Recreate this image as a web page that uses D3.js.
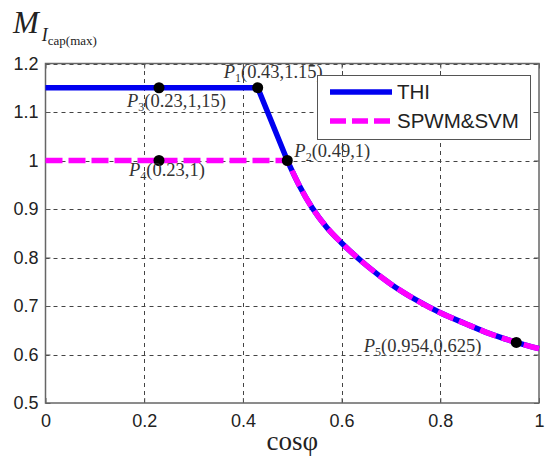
<!DOCTYPE html>
<html>
<head>
<meta charset="utf-8">
<script src="https://cdn.jsdelivr.net/npm/d3@7/dist/d3.min.js"></script>
<style>
  html, body { margin: 0; padding: 0; background: #fff; }
  svg { display: block; }
</style>
</head>
<body>
<svg id="chart" width="545" height="459"></svg>
<script>
// Shared tail of both curves (power-factor limited region)
const curveCos = [0.49, 0.515, 0.54, 0.57, 0.6, 0.65, 0.7, 0.75, 0.8, 0.85, 0.9, 0.954, 1];
const curveM   = [1.0, 0.947, 0.903, 0.862, 0.83, 0.784, 0.745, 0.713, 0.686, 0.664, 0.643, 0.625, 0.612];

// Flat heads of each strategy
const thiCos  = [0, 0.43];
const thiM    = [1.15, 1.15];
const spwmCos = [0];
const spwmM   = [1];

// Marked points
const pointNames = ["1", "2", "3", "4", "5"];
const pointCos   = [0.43, 0.49, 0.23, 0.23, 0.954];
const pointM     = [1.15, 1, 1.15, 1, 0.625];
const pointTexts = ["(0.43,1.15)", "(0.49,1)", "(0.23,1,15)", "(0.23,1)", "(0.954,0.625)"];

// Axis ticks
const xTicks = [0, 0.2, 0.4, 0.6, 0.8, 1];
const xTickLabels = ["0", "0.2", "0.4", "0.6", "0.8", "1"];
const yTicks = [0.5, 0.6, 0.7, 0.8, 0.9, 1, 1.1, 1.2];
const yTickLabels = ["0.5", "0.6", "0.7", "0.8", "0.9", "1", "1.1", "1.2"];

const seriesNames = ["THI", "SPWM&SVM"];

const svg = d3.select("#chart");
const x = d3.scaleLinear().domain([0, 1]).range([45.5, 539]);
const y = d3.scaleLinear().domain([0.5, 1.2]).range([403, 63.5]);

// Grid
const grid = svg.append("g").attr("stroke", "#444").attr("stroke-width", 1)
  .attr("stroke-dasharray", "4,4");
grid.selectAll("line.h").data(yTicks.filter(v => v > 0.5)).join("line")
  .attr("x1", x(0)).attr("x2", x(1))
  .attr("y1", d => Math.round(y(d)) + 0.5).attr("y2", d => Math.round(y(d)) + 0.5);
grid.selectAll("line.v").data(xTicks.filter(v => v > 0 && v < 1)).join("line")
  .attr("y1", y(0.5)).attr("y2", y(1.2))
  .attr("x1", d => Math.round(x(d)) + 0.5).attr("x2", d => Math.round(x(d)) + 0.5);

// Axes with inward ticks
const fmtX = d => xTickLabels[xTicks.indexOf(d)];
const fmtY = d => yTickLabels[yTicks.indexOf(d)];
const axB = svg.append("g").attr("transform", `translate(0,${y(0.5)})`)
  .call(d3.axisBottom(x).tickValues(xTicks).tickFormat(fmtX).tickSizeInner(-5).tickSizeOuter(0).tickPadding(11));
const axL = svg.append("g").attr("transform", `translate(${x(0)},0)`)
  .call(d3.axisLeft(y).tickValues(yTicks).tickFormat(fmtY).tickSizeInner(-5).tickSizeOuter(0).tickPadding(7));
const axT = svg.append("g").attr("transform", `translate(0,${y(1.2)})`)
  .call(d3.axisTop(x).tickValues(xTicks).tickFormat("").tickSizeInner(-5).tickSizeOuter(0));
const axR = svg.append("g").attr("transform", `translate(${x(1)},0)`)
  .call(d3.axisRight(y).tickValues(yTicks).tickFormat("").tickSizeInner(-5).tickSizeOuter(0));
[axB, axL, axT, axR].forEach(a => {
  a.select(".domain").remove();
  a.selectAll(".tick line").attr("stroke", "#555");
  a.selectAll(".tick text").attr("fill", "#222")
    .style("font-family", "'Liberation Sans', Arial, sans-serif").style("font-size", "18px");
});

// Plot box
svg.append("rect")
  .attr("x", x(0)).attr("y", y(1.2))
  .attr("width", x(1) - x(0)).attr("height", y(0.5) - y(1.2))
  .attr("fill", "none").attr("stroke", "#666").attr("stroke-width", 1.5);

// Lines: straight head joined to a smooth tail
function seriesPath(headCos, headM) {
  const head = headCos.map((c, i) => [x(c), y(headM[i])]).concat([[x(curveCos[0]), y(curveM[0])]]);
  const tail = curveCos.map((c, i) => [x(c), y(curveM[i])]);
  const a = d3.line().curve(d3.curveLinear)(head);
  const b = d3.line().curve(d3.curveMonotoneX)(tail);
  return a + b.replace(/^M/, "L");
}

svg.append("path").attr("d", seriesPath(thiCos, thiM))
  .attr("fill", "none").attr("stroke", "#0000f0").attr("stroke-width", 5.5)
  .attr("stroke-linejoin", "round");
svg.append("path").attr("d", seriesPath(spwmCos, spwmM))
  .attr("fill", "none").attr("stroke", "#ff00ff").attr("stroke-width", 5.5)
  .attr("stroke-dasharray", "17,6");

// Marked points and their labels
const labelOffsets = [[-34, -9.5, "start"], [7, -3.5, "start"], [-32, 19, "start"], [-30, 15, "start"], [-35, 9.5, "end"]];
svg.append("g").selectAll("circle").data(pointNames).join("circle")
  .attr("cx", (d, i) => x(pointCos[i])).attr("cy", (d, i) => y(pointM[i]))
  .attr("r", 5.5).attr("fill", "#000");

const labels = svg.append("g")
  .style("font-family", "'Liberation Serif', 'Times New Roman', serif")
  .style("font-size", "18.5px").attr("fill", "#333");
pointNames.forEach((n, i) => {
  const t = labels.append("text")
    .attr("x", x(pointCos[i]) + labelOffsets[i][0])
    .attr("y", y(pointM[i]) + labelOffsets[i][1])
    .attr("text-anchor", labelOffsets[i][2]);
  t.append("tspan").style("font-style", "italic").text("P");
  t.append("tspan").attr("dy", 4).style("font-size", "12px").text(n);
  t.append("tspan").attr("dy", -4).text(pointTexts[i]);
});

// Legend
const lg = svg.append("g");
lg.append("rect").attr("x", 317.5).attr("y", 75.5).attr("width", 213).attr("height", 64)
  .attr("fill", "#fff").attr("stroke", "#555").attr("stroke-width", 1);
lg.append("line").attr("x1", 330).attr("x2", 392).attr("y1", 92).attr("y2", 92)
  .attr("stroke", "#0000f0").attr("stroke-width", 5.5);
lg.append("line").attr("x1", 330).attr("x2", 392).attr("y1", 121).attr("y2", 121)
  .attr("stroke", "#ff00ff").attr("stroke-width", 5.5).attr("stroke-dasharray", "16,6");
lg.selectAll("text").data(seriesNames).join("text")
  .attr("x", 397).attr("y", (d, i) => 92 + i * 29).attr("dy", "0.35em")
  .style("font-family", "'Liberation Sans', Arial, sans-serif").style("font-size", "20.5px")
  .attr("fill", "#222").text(d => d);

// Axis titles
svg.append("text").attr("x", (x(0) + x(1)) / 2).attr("y", 450).attr("text-anchor", "middle")
  .style("font-family", "'Liberation Serif', 'Times New Roman', serif").style("font-size", "27px")
  .attr("fill", "#222").text("cosφ");

const yt = svg.append("text").attr("x", 13).attr("y", 33)
  .style("font-family", "'Liberation Serif', 'Times New Roman', serif").attr("fill", "#222");
yt.append("tspan").style("font-style", "italic").style("font-size", "31px").text("M");
yt.append("tspan").attr("dx", 3).attr("dy", 8).style("font-style", "italic").style("font-size", "18px").text("I");
yt.append("tspan").attr("dy", 4).style("font-size", "13px").text("cap(max)");
</script>
</body>
</html>
